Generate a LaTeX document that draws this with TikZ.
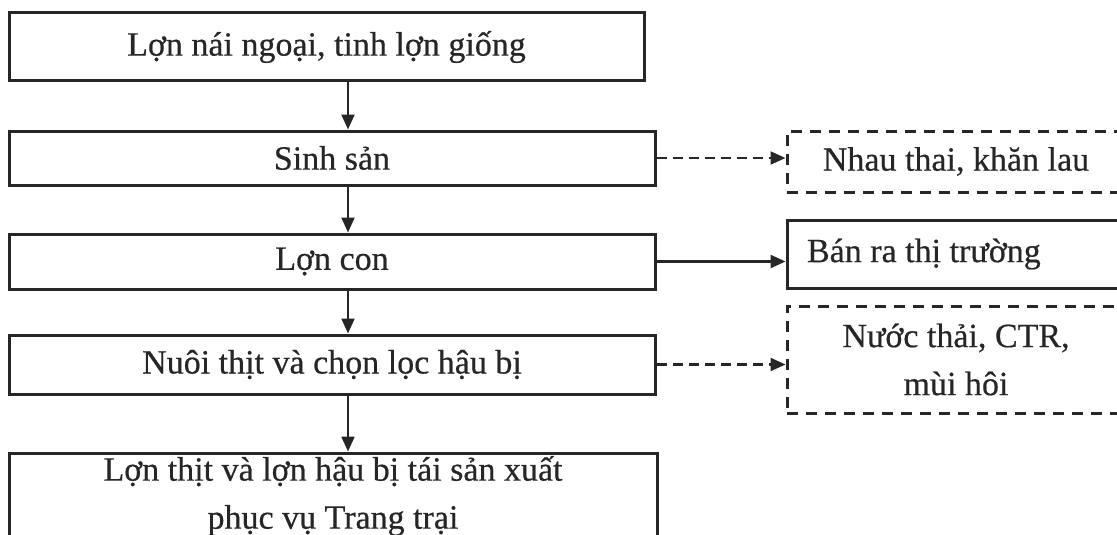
\documentclass[tikz,border=0pt]{standalone}
\usepackage{fontspec}
\setmainfont{Liberation Serif}[FakeBold=0.5]
\usetikzlibrary{arrows.meta}
\definecolor{ink}{HTML}{262626}
\tikzset{
  box/.style={draw=ink, line width=3pt, inner sep=0pt, align=center,
    text=ink, font=\fontsize{34}{48}\selectfont},
  dbox/.style={box, dash pattern=on 11pt off 8pt},
  arr/.style={draw=ink, line width=2.2pt,
    -{Triangle[length=15pt,width=13pt]}},
  darr/.style={arr, dash pattern=on 10pt off 6pt},
}
\begin{document}
\begin{tikzpicture}[x=1pt,y=-1pt]
\useasboundingbox (0,0) rectangle (1117,535);
% main chain
\node[box, minimum width=635, minimum height=68] (b1) at (326.5,47)
  {Lợn nái ngoại, tinh lợn giống};
\node[box, minimum width=646, minimum height=54] (b2) at (332,158)
  {Sinh sản};
\node[box, minimum width=646, minimum height=55] (b3) at (332,261.5)
  {Lợn con};
\node[box, minimum width=646, minimum height=59] (b4) at (332,364.5)
  {Nuôi thịt và chọn lọc hậu bị};
\node[box, minimum width=648, minimum height=86] (b5) at (333,496)
  {Lợn thịt và lợn hậu bị tái sản xuất\\phục vụ Trang trại};
% side outputs
\node[dbox, minimum width=338, minimum height=61] (r1) at (956,161.5)
  {Nhau thai, khăn lau};
\node[box, minimum height=68, text width=298, inner xsep=20pt,
  align=flush left] (r2) at (956,254) {Bán ra thị trường};
\node[dbox, minimum width=338, minimum height=107] (r3) at (956,359.5)
  {Nước thải, CTR,\\mùi hôi};
% connectors
\coordinate (ax) at (348,0);
\draw[arr] (b1.south -| ax) -- (b2.north -| ax);
\draw[arr] (b2.south -| ax) -- (b3.north -| ax);
\draw[arr] (b3.south -| ax) -- (b4.north -| ax);
\draw[arr] (b4.south -| ax) -- (b5.north -| ax);
\draw[darr] (b2.east) -- (b2.east -| r1.west);
\draw[arr] (b3.east) -- (b3.east -| r2.west);
\draw[darr] (b4.east) -- (b4.east -| r3.west);
\end{tikzpicture}
\end{document}
